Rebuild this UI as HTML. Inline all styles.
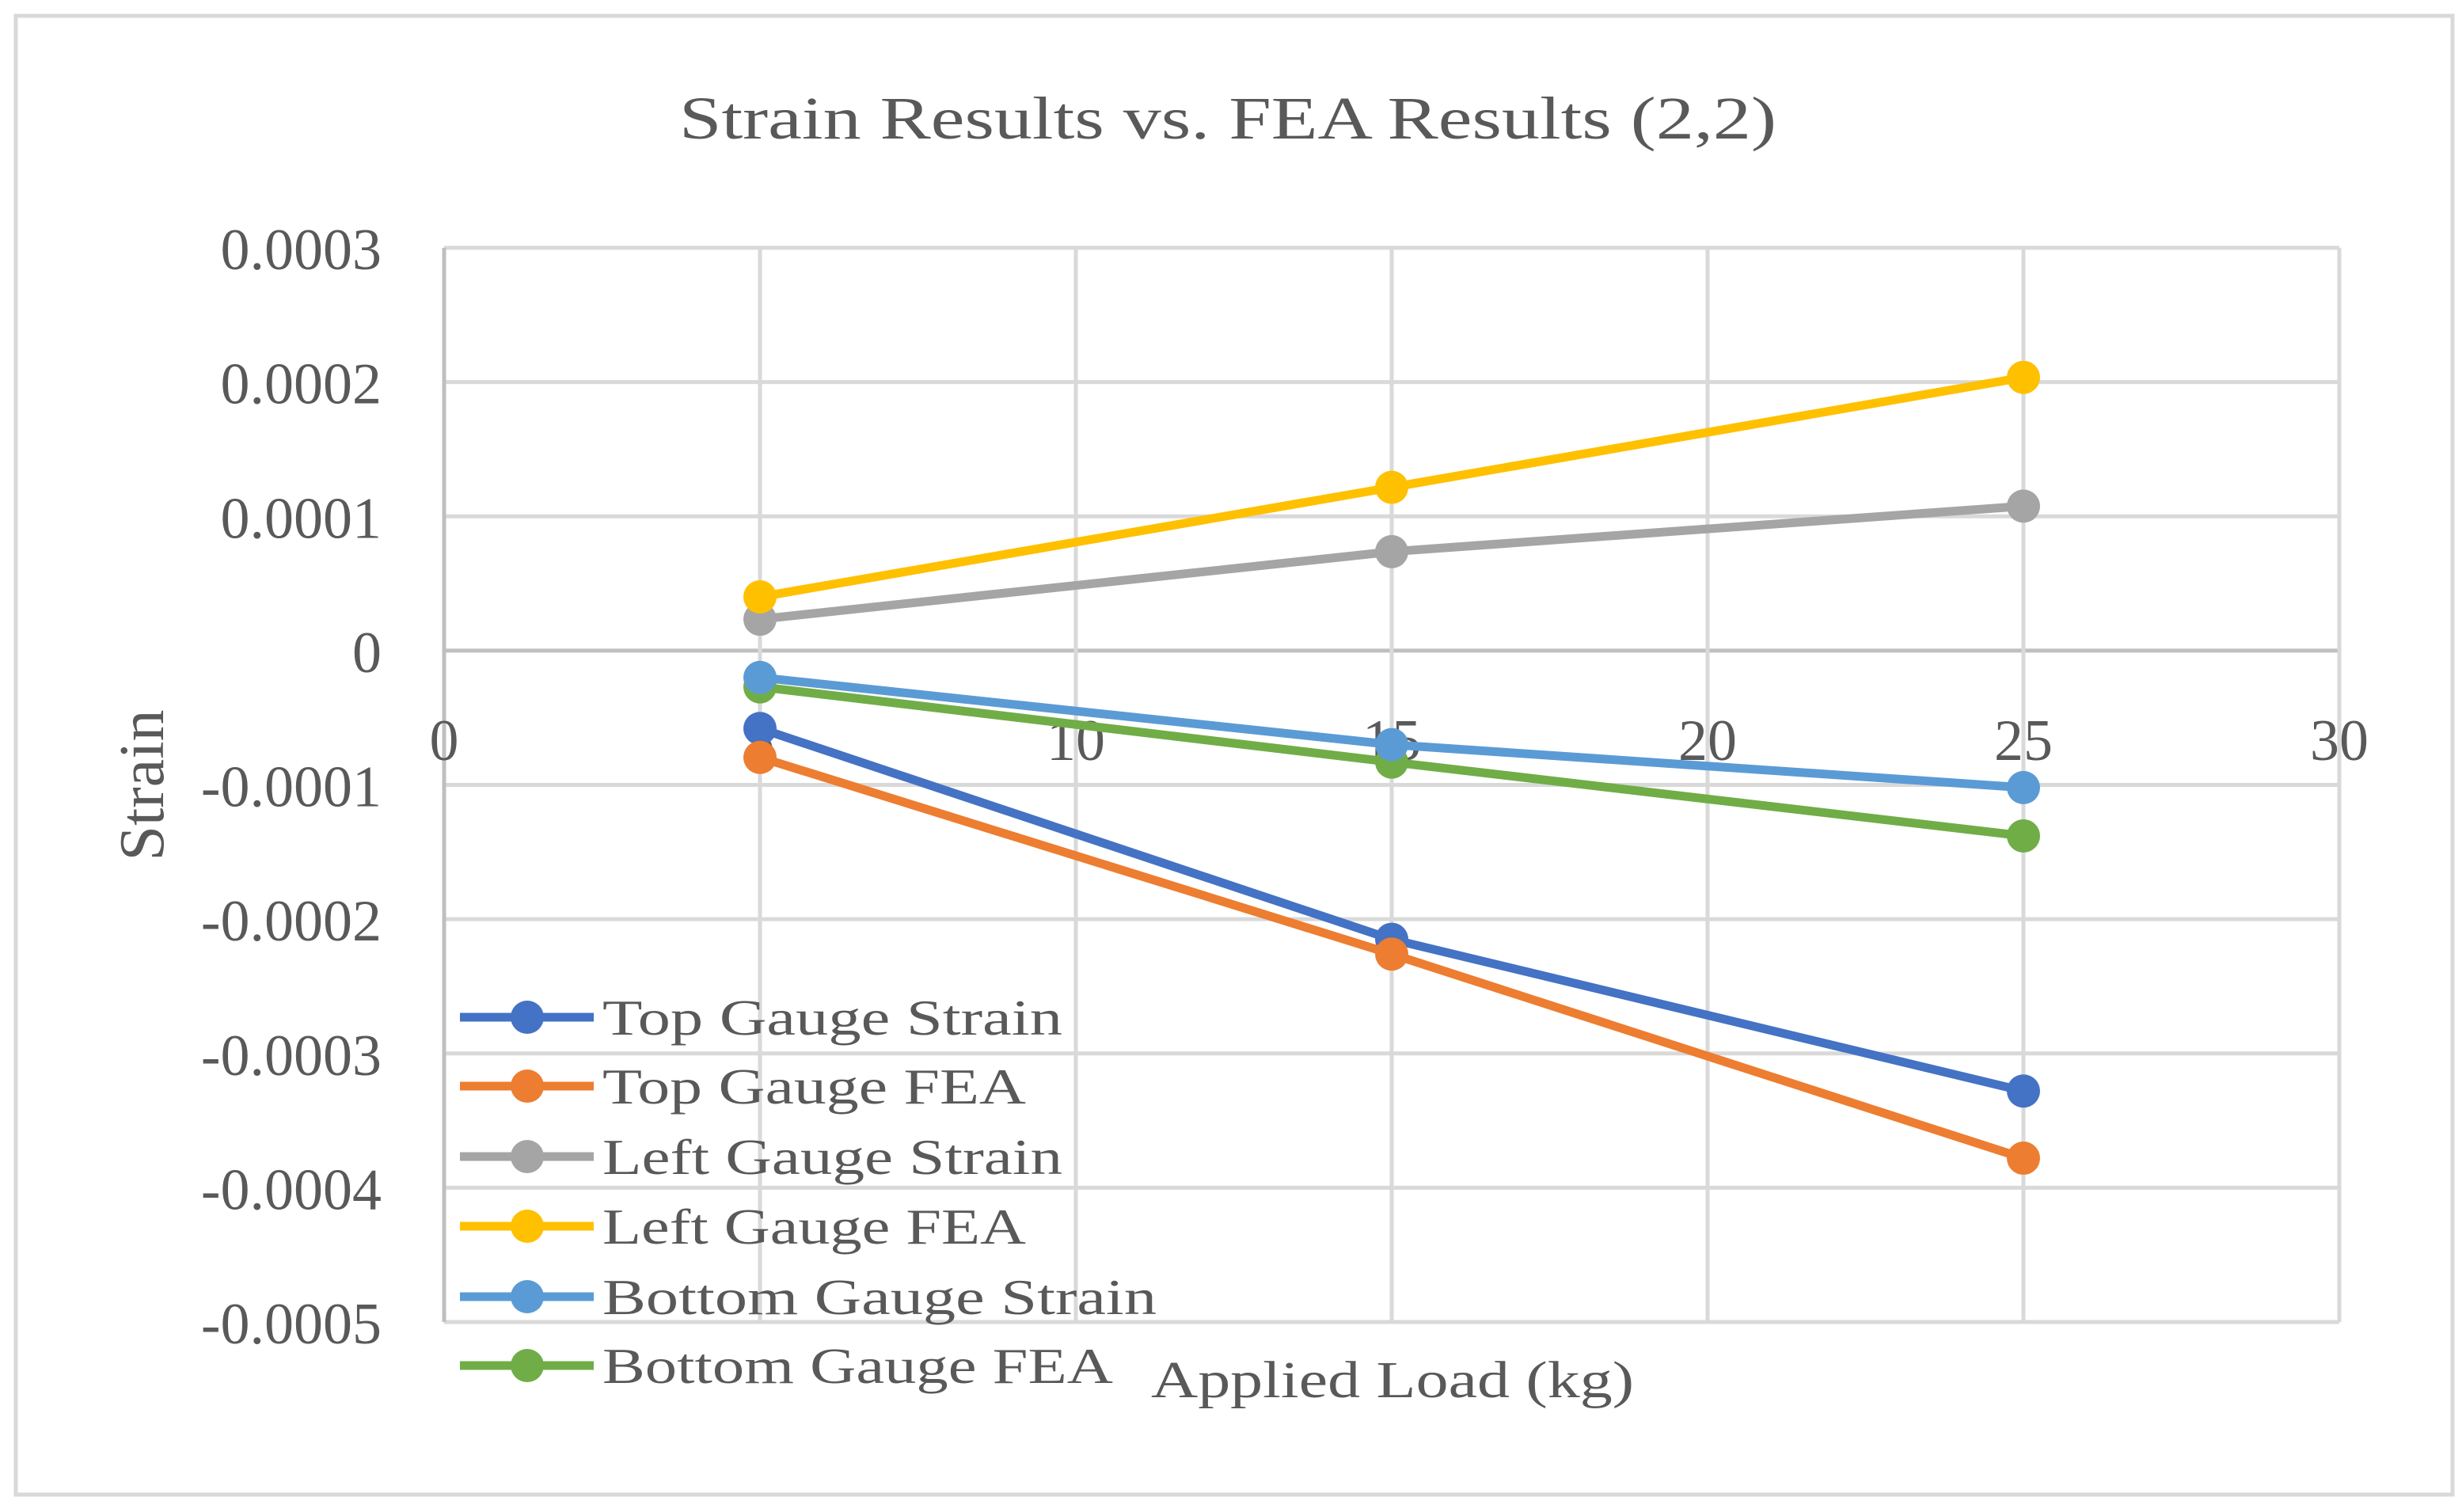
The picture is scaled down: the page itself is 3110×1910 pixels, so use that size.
<!DOCTYPE html>
<html><head><meta charset="utf-8">
<style>
html,body{margin:0;padding:0;background:#fff;}
svg{display:block;}
text{font-family:"Liberation Serif",serif;fill:#595959;}
</style></head>
<body>
<svg id="chart" width="3110" height="1910" viewBox="0 0 3110 1910" xmlns="http://www.w3.org/2000/svg">
<rect x="20" y="20" width="3078" height="1868" fill="#fff" stroke="#d9d9d9" stroke-width="5"/>
<text x="1551" y="175" font-size="76" text-anchor="middle" textLength="1386" lengthAdjust="spacingAndGlyphs">Strain Results vs. FEA Results (2,2)</text>
<g id="grid"></g>
<g id="yticks"></g>
<g id="xticks"></g>
<text transform="translate(206,992) rotate(-90)" font-size="80" text-anchor="middle">Strain</text>
<text x="1759" y="1765" font-size="66" text-anchor="middle" textLength="610" lengthAdjust="spacingAndGlyphs">Applied Load (kg)</text>
<g id="series"></g>
<g id="legend"></g>
</svg>
<script>
const xValues = [5, 15, 25];
const topStrain = [-0.000058, -0.000215, -0.000328];
const topFEA = [-0.0000795, -0.000226, -0.000378];
const leftStrain = [0.0000234, 0.0000737, 0.0001076];
const leftFEA = [0.00004, 0.0001216, 0.0002035];
const bottomStrain = [-0.00002, -0.00007, -0.000102];
const bottomFEA = [-0.000027, -0.000083, -0.000138];
const seriesNames = ["Top Gauge Strain","Top Gauge FEA","Left Gauge Strain","Left Gauge FEA","Bottom Gauge Strain","Bottom Gauge FEA"];
const yTicks = [0.0003,0.0002,0.0001,0,-0.0001,-0.0002,-0.0003,-0.0004,-0.0005];
const yTickLabels = ["0.0003","0.0002","0.0001","0","-0.0001","-0.0002","-0.0003","-0.0004","-0.0005"];
const xTicks = [0,5,10,15,20,25,30];
const xTickLabels = ["0","5","10","15","20","25","30"];

const NS="http://www.w3.org/2000/svg";
const L=561,R=2955,T=313,B=1670;
const xMin=0,xMax=30,yMin=-0.0005,yMax=0.0003;
function xs(v){return L+(v-xMin)/(xMax-xMin)*(R-L);}
function ys(v){return B-(v-yMin)/(yMax-yMin)*(B-T);}
function mk(tag,attrs,parent){const e=document.createElementNS(NS,tag);for(const k in attrs)e.setAttribute(k,attrs[k]);parent.appendChild(e);return e;}

const grid=document.getElementById('grid');
yTicks.forEach((v,i)=>{
  const l=mk('line',{x1:L,x2:R,y1:ys(v),y2:ys(v),stroke:v===0?'#bfbfbf':'#d9d9d9','stroke-width':5},grid);
  
  
  const t=mk('text',{x:482,y:ys(v)+27,'font-size':74,'text-anchor':'end'},document.getElementById('yticks'));
  
  
  t.textContent=yTickLabels[i];
});
xTicks.forEach((v,i)=>{
  const l=mk('line',{x1:xs(v),x2:xs(v),y1:T,y2:B,stroke:v===0?'#bfbfbf':'#d9d9d9','stroke-width':5},grid);
  
  
  const t=mk('text',{x:xs(v),y:ys(0)+138,'font-size':74,'text-anchor':'middle'},document.getElementById('xticks'));
  
  
  t.textContent=xTickLabels[i];
});

const allSeries=[topStrain,topFEA,leftStrain,leftFEA,bottomStrain,bottomFEA];
const colors=["#4472c4","#ed7d31","#a5a5a5","#ffc000","#5b9bd5","#70ad47"];
const sg=document.getElementById('series');
const drawOrder=[2,3,0,1,5,4];
drawOrder.forEach(si=>{
  const vals=allSeries[si];
  const g=mk('g',{},sg);
  
  
  const pts=vals.map((v,i)=>xs(xValues[i])+','+ys(v)).join(' ');
  const pl=mk('polyline',{points:pts,fill:'none',stroke:colors[si],'stroke-width':11,'stroke-linejoin':'round'},g);
  
  
  vals.forEach((v,i)=>{
    const c=mk('circle',{cx:xs(xValues[i]),cy:ys(v),r:21,fill:colors[si]},g);
    
    
  });
});

const lg=document.getElementById('legend');
const legY=[1285,1372,1461,1549,1638,1725];
const legW=[581,535,581,535,700,645];
seriesNames.forEach((n,i)=>{
  const g=mk('g',{},lg);
  
  
  mk('line',{x1:581,x2:750,y1:legY[i],y2:legY[i],stroke:colors[i],'stroke-width':11},g);
  mk('circle',{cx:666,cy:legY[i],r:21,fill:colors[i]},g);
  const t=mk('text',{x:761,y:legY[i]+22,'font-size':64,textLength:legW[i],lengthAdjust:'spacingAndGlyphs'},g);
  t.textContent=n;
});
</script>
</body></html>
